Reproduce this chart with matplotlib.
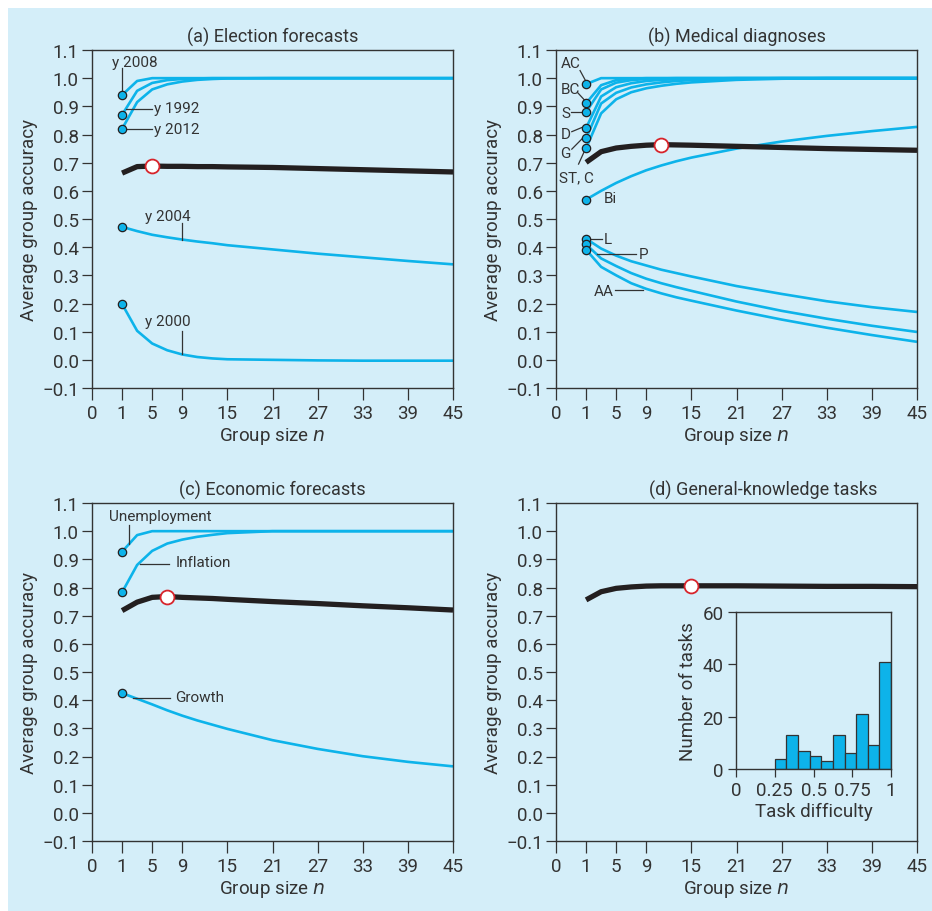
import numpy as np
import matplotlib
matplotlib.use('Agg')
import matplotlib.pyplot as plt
from matplotlib.patches import Rectangle

plt.rcParams['font.family'] = ['Roboto', 'DejaVu Sans']

BG = '#d4eef9'
CYAN = '#0db3ea'
DARK = '#231f20'
GREY = '#333333'
RED = '#d7242b'

# group sizes at which the curves are read
N = [1, 3, 5, 7, 9, 11, 13, 15, 21, 27, 33, 39, 45]

# x axis: the "0" tick sits 4 units left of n = 1
XTICK_POS = [-3, 1, 5, 9, 15, 21, 27, 33, 39, 45]
XTICK_LAB = ['0', '1', '5', '9', '15', '21', '27', '33', '39', '45']
YTICKS = [1.1, 1.0, 0.9, 0.8, 0.7, 0.6, 0.5, 0.4, 0.3, 0.2, 0.1, 0.0, -0.1]

# (a) election forecasts
a_y2008 = [0.940, 0.990, 1.0, 1.0, 1.0, 1.0, 1.0, 1.0, 1.0, 1.0, 1.0, 1.0, 1.0]
a_y1992 = [0.870, 0.955, 0.983, 0.993, 0.997, 0.999, 1.0, 1.0, 1.0, 1.0, 1.0, 1.0, 1.0]
a_y2012 = [0.820, 0.915, 0.960, 0.978, 0.988, 0.994, 0.997, 0.999, 1.0, 1.0, 1.0, 1.0, 1.0]
a_y2004 = [0.472, 0.457, 0.444, 0.435, 0.427, 0.420, 0.414, 0.407, 0.392, 0.377, 0.364, 0.351, 0.339]
a_y2000 = [0.198, 0.103, 0.058, 0.034, 0.019, 0.010, 0.005, 0.002, 0.0, -0.002, -0.003, -0.003, -0.003]
a_mean = [0.663, 0.686, 0.688, 0.687, 0.687, 0.686, 0.686, 0.685, 0.683, 0.679, 0.675, 0.671, 0.667]
a_best = 5

# (b) medical diagnoses
b_AC = [0.979, 1.0, 1.0, 1.0, 1.0, 1.0, 1.0, 1.0, 1.0, 1.0, 1.0, 1.0, 1.0]
b_BC = [0.911, 0.975, 0.993, 0.998, 1.0, 1.0, 1.0, 1.0, 1.0, 1.0, 1.0, 1.0, 1.0]
b_S = [0.880, 0.960, 0.984, 0.993, 0.997, 0.999, 1.0, 1.0, 1.0, 1.0, 1.0, 1.0, 1.0]
b_D = [0.823, 0.935, 0.968, 0.982, 0.990, 0.994, 0.996, 0.998, 1.0, 1.0, 1.0, 1.0, 1.0]
b_G = [0.786, 0.910, 0.948, 0.967, 0.978, 0.985, 0.990, 0.993, 0.998, 1.0, 1.0, 1.0, 1.0]
b_STC = [0.751, 0.875, 0.925, 0.950, 0.964, 0.973, 0.980, 0.985, 0.994, 0.998, 1.0, 1.0, 1.0]
b_Bi = [0.569, 0.600, 0.628, 0.652, 0.673, 0.690, 0.705, 0.718, 0.750, 0.775, 0.795, 0.812, 0.827]
b_L = [0.430, 0.395, 0.370, 0.350, 0.335, 0.320, 0.308, 0.296, 0.262, 0.234, 0.208, 0.187, 0.170]
b_P = [0.410, 0.360, 0.333, 0.308, 0.288, 0.272, 0.258, 0.245, 0.207, 0.174, 0.146, 0.121, 0.099]
b_AA = [0.391, 0.330, 0.300, 0.272, 0.252, 0.236, 0.222, 0.210, 0.175, 0.143, 0.114, 0.088, 0.064]
b_mean = [0.701, 0.739, 0.752, 0.758, 0.762, 0.764, 0.763, 0.762, 0.758, 0.754, 0.750, 0.747, 0.744]
b_best = 11

# (c) economic forecasts
c_unemp = [0.927, 0.986, 1.0, 1.0, 1.0, 1.0, 1.0, 1.0, 1.0, 1.0, 1.0, 1.0, 1.0]
c_infl = [0.783, 0.880, 0.930, 0.956, 0.970, 0.980, 0.987, 0.993, 1.0, 1.0, 1.0, 1.0, 1.0]
c_growth = [0.425, 0.405, 0.385, 0.364, 0.345, 0.328, 0.313, 0.298, 0.258, 0.227, 0.201, 0.181, 0.165]
c_mean = [0.718, 0.748, 0.765, 0.768, 0.765, 0.763, 0.761, 0.758, 0.750, 0.743, 0.735, 0.728, 0.720]
c_best = 7

# (d) general-knowledge tasks
d_mean = [0.756, 0.785, 0.797, 0.802, 0.805, 0.806, 0.806, 0.806, 0.806, 0.805, 0.804, 0.804, 0.803]
d_best = 15

# inset histogram of task difficulty
hist_edges = [0.25, 0.325, 0.40, 0.475, 0.55, 0.625, 0.70, 0.775, 0.85, 0.925, 1.0]
hist_counts = [4, 13, 7, 5, 3, 13, 6, 21, 9, 41]

# annotation labels: text, text x, text y, ha, leader xs, leader ys
a_labels = [
    ('y 2008', 2.7, 1.058, 'center', [1.0, 1.0], [1.035, 0.955]),
    ('y 1992', 5.3, 0.893, 'left', [1.5, 5.0], [0.890, 0.890]),
    ('y 2012', 5.3, 0.818, 'left', [1.0, 5.0], [0.818, 0.818]),
    ('y 2004', 7.1, 0.512, 'center', [9.0, 9.0], [0.487, 0.427]),
    ('y 2000', 7.1, 0.139, 'center', [9.0, 9.0], [0.103, 0.019]),
]
b_labels = [
    ('AC', -1.1, 1.055, 'center', [0.2, 0.85], [1.027, 0.995]),
    ('BC', -1.1, 0.963, 'center', [-0.1, 0.8], [0.948, 0.922]),
    ('S', -1.7, 0.875, 'center', [-1.0, 0.5], [0.880, 0.880]),
    ('D', -1.7, 0.803, 'center', [-0.9, 0.45], [0.810, 0.825]),
    ('G', -1.7, 0.733, 'center', [-0.9, 0.55], [0.748, 0.787]),
    ('ST, C', -0.3, 0.648, 'center', [0.0, 0.85], [0.695, 0.745]),
    ('Bi', 4.2, 0.574, 'center', None, None),
    ('L', 3.4, 0.430, 'left', [1.4, 3.1], [0.430, 0.430]),
    ('P', 8.0, 0.377, 'left', [2.4, 7.6], [0.374, 0.374]),
    ('AA', 3.4, 0.244, 'center', [4.9, 8.6], [0.249, 0.249]),
]
c_labels = [
    ('Unemployment', 6.1, 1.055, 'center', [1.9, 1.9], [1.021, 0.954]),
    ('Inflation', 8.1, 0.889, 'left', [3.35, 7.3], [0.883, 0.883]),
    ('Growth', 8.1, 0.413, 'left', [2.4, 7.4], [0.408, 0.408]),
]


def style_axes(ax, title, title_x=0.5):
    ax.set_facecolor('none')
    ax.set_xlim(-3, 45)
    ax.set_ylim(-0.1, 1.1)
    ax.set_xticks(XTICK_POS)
    ax.set_xticklabels(XTICK_LAB)
    ax.set_yticks(YTICKS)
    ax.set_yticklabels([f'{v:.1f}'.replace('-', '\u2212') for v in YTICKS])
    ax.tick_params(axis='y', direction='out', length=7.5, width=0.9,
                   color=GREY, labelsize=13.5, labelcolor=GREY, pad=2)
    ax.tick_params(axis='x', direction='out', length=8.5, width=0.9,
                   color=GREY, labelsize=13.5, labelcolor=GREY, pad=3)
    for sp in ax.spines.values():
        sp.set_color(GREY)
        sp.set_linewidth(1.0)
    ax.set_ylabel('Average group accuracy', fontsize=13.5, color=GREY, labelpad=3)
    ax.set_xlabel('Group size $\\it{n}$', fontsize=13.5, color=GREY, labelpad=2)
    ax.set_title(title, fontsize=13, color=GREY, pad=6, x=title_x)


def draw_panel(ax, curves, mean, best, labels):
    for y in curves:
        ax.plot(N, y, color=CYAN, lw=1.9, solid_capstyle='butt', zorder=2)
    for y in curves:
        ax.plot(N[0], y[0], 'o', ms=6, mfc=CYAN, mec=DARK, mew=0.9, zorder=4)
    if mean is not None:
        ax.plot(N, mean, color=DARK, lw=3.8, solid_capstyle='butt', zorder=3)
        ax.plot(best, np.interp(best, N, mean), 'o', ms=10, mfc='white',
                mec=RED, mew=1.3, zorder=5)
    for text, tx, ty, ha, lx, ly in labels:
        ax.text(tx, ty, text, ha=ha, va='center', fontsize=11, color=GREY, zorder=6)
        if lx is not None:
            ax.plot(lx, ly, color=GREY, lw=0.9, zorder=3)


fig = plt.figure(figsize=(9.32, 9.12), dpi=100)
fig.patches.append(Rectangle((8 / 932, 0), 1, 1 - 9 / 912, transform=fig.transFigure,
                             facecolor=BG, edgecolor='none', zorder=-10))

W, H = 361 / 932, 338 / 912
ax_a = fig.add_axes([92 / 932, 1 - 389 / 912, W, H])
ax_b = fig.add_axes([556 / 932, 1 - 389 / 912, W, H])
ax_c = fig.add_axes([92 / 932, 1 - 842 / 912, W, H])
ax_d = fig.add_axes([556 / 932, 1 - 842 / 912, W, H])

style_axes(ax_a, '(a) Election forecasts')
style_axes(ax_b, '(b) Medical diagnoses')
style_axes(ax_c, '(c) Economic forecasts')
style_axes(ax_d, '(d) General-knowledge tasks', title_x=0.575)

draw_panel(ax_a, [a_y2008, a_y1992, a_y2012, a_y2004, a_y2000], a_mean, a_best, a_labels)
draw_panel(ax_b, [b_AC, b_BC, b_S, b_D, b_G, b_STC, b_Bi, b_L, b_P, b_AA],
           b_mean, b_best, b_labels)
draw_panel(ax_c, [c_unemp, c_infl, c_growth], c_mean, c_best, c_labels)
draw_panel(ax_d, [], d_mean, d_best, [])

# inset histogram
ax_in = fig.add_axes([736 / 932, 1 - 770 / 912, 155 / 932, 157 / 912])
ax_in.set_facecolor('none')
ax_in.bar(hist_edges[:-1], hist_counts, width=np.diff(hist_edges), align='edge',
          color=CYAN, edgecolor=GREY, linewidth=0.9)
ax_in.set_xlim(0, 1)
ax_in.set_ylim(0, 60)
ax_in.set_xticks([0, 0.25, 0.5, 0.75, 1])
ax_in.set_xticklabels(['0', '0.25', '0.5', '0.75', '1'])
ax_in.set_yticks([0, 20, 40, 60])
ax_in.tick_params(direction='out', length=6, width=0.9, color=GREY,
                  labelsize=13.5, labelcolor=GREY, pad=3)
for sp in ax_in.spines.values():
    sp.set_color(GREY)
    sp.set_linewidth(1.0)
ax_in.set_xlabel('Task difficulty', fontsize=13.5, color=GREY, labelpad=2)
ax_in.set_ylabel('Number of tasks', fontsize=13.5, color=GREY, labelpad=4)

fig.savefig('out.png', dpi=100, facecolor='white')
